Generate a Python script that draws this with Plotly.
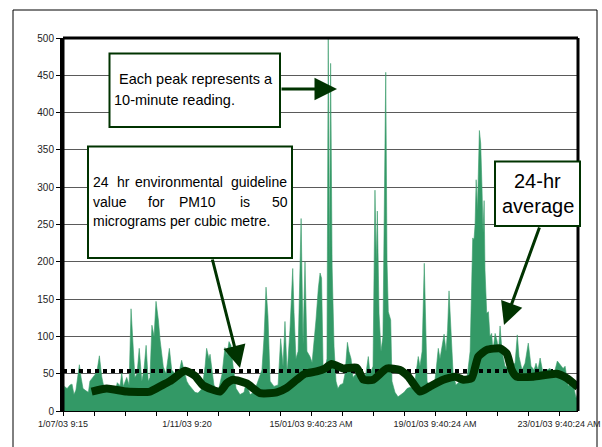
import plotly.graph_objects as go

# ---------------- data ----------------
# index of the 10-minute reading (144 readings per day)
reading_index = [0, 7, 19, 33, 42, 51, 60, 76, 84, 93, 107, 118, 125, 139, 157, 169, 180, 190,
                 209, 228, 246, 252, 265, 273, 280, 296, 307, 316, 324, 334, 344, 354, 366, 376,
                 386, 396, 404, 413, 423, 432, 443, 451, 466, 478, 494, 505, 520, 534, 551, 562,
                 575, 585, 598, 613, 627, 646, 660, 667, 678, 683, 692, 701, 720, 739, 752, 762,
                 771, 780, 790, 804, 822, 841, 850, 869, 887, 906, 924, 934, 943, 952, 962, 980,
                 999, 1011, 1022, 1031, 1041, 1054, 1067, 1073, 1082, 1092, 1106, 1115, 1124, 1133,
                 1147, 1157, 1166, 1175, 1186, 1194, 1201, 1208, 1217, 1226, 1232, 1238, 1243, 1250,
                 1259, 1268, 1277, 1287, 1301, 1310, 1321, 1328, 1338, 1347, 1361, 1380, 1394, 1407,
                 1418, 1426, 1440, 1449, 1455, 1460, 1468, 1477, 1486, 1491, 1499, 1505, 1511, 1522,
                 1528, 1542, 1556, 1570, 1584, 1598, 1612, 1630, 1650, 1658, 1668, 1678, 1684, 1691,
                 1705, 1723, 1733, 1743, 1751, 1760, 1770, 1779, 1786, 1793, 1802, 1812, 1825, 1844,
                 1863, 1877, 1891, 1898, 1903, 1909, 1914, 1919, 1925, 1934, 1940, 1946, 1951, 1956,
                 1960, 1968, 1976, 1983, 1991, 1997, 2007, 2016, 2023, 2030, 2039, 2053, 2072, 2090,
                 2100, 2110, 2118, 2132, 2146, 2161, 2174, 2188, 2197, 2206, 2216, 2230, 2248, 2262,
                 2281, 2296, 2309, 2323, 2332, 2346, 2364, 2374, 2383, 2392]
pm10_values = [18, 33, 30, 35, 36, 22, 28, 62, 45, 30, 27, 25, 40, 46, 52, 74, 46, 32,
               30, 33, 30, 38, 34, 51, 33, 45, 35, 137, 95, 45, 50, 84, 40, 55,
               88, 40, 45, 115, 100, 147, 122, 95, 59, 50, 84, 55, 50, 45, 68, 55,
               40, 35, 30, 25, 24, 30, 60, 84, 70, 76, 55, 35, 25, 50, 85, 75,
               93, 88, 60, 30, 22, 25, 38, 22, 25, 40, 55, 100, 166, 127, 40, 33,
               35, 97, 60, 120, 50, 108, 191, 132, 70, 80, 258, 90, 200, 80,
               73, 65, 90, 122, 165, 185, 178, 60, 55, 70, 505, 200, 466, 193,
               86, 40, 30, 35, 37, 50, 92, 80, 70, 45, 50, 48, 45, 50,
               73, 50, 60, 296, 200, 268, 130, 80, 100, 284, 454, 200, 133, 122,
               40, 25, 19, 22, 25, 30, 32, 30, 73, 60, 80, 198, 118, 40,
               28, 30, 55, 84, 70, 88, 103, 80, 108, 161, 108, 50, 35, 40,
               38, 45, 80, 153, 232, 230, 250, 310, 270, 376, 359, 300, 240, 282,
               189, 131, 133, 100, 104, 80, 104, 94, 80, 114, 80, 60, 55, 60,
               65, 102, 73, 55, 64, 91, 60, 55, 64, 55, 71, 50, 55, 57,
               50, 67, 62, 57, 60, 34, 37, 30, 17, 25]

avg_index = [133, 203, 296, 404, 451, 497, 567, 613, 652, 729, 760, 790, 853, 915, 993, 1039,
             1086, 1124, 1178, 1217, 1248, 1302, 1364, 1395, 1441, 1504, 1565, 1604, 1658, 1705,
             1766, 1821, 1859, 1898, 1929, 1968, 2030, 2061, 2084, 2107, 2185, 2293, 2340, 2392]
avg_values = [26, 30, 26, 26, 33, 40, 54, 47, 34, 26, 37, 42, 37, 24, 25, 31,
              42, 50, 53, 57, 63, 57, 58, 42, 42, 57, 55, 46, 26, 33,
              42, 46, 42, 44, 73, 82, 84, 77, 55, 46, 46, 50, 44, 32]

guideline_value = 53.5
guideline_index = [0, 2276]

tick_index = [0, 144, 288, 432, 576, 720, 864, 1008, 1152, 1296, 1440, 1584, 1728, 1872,
              2016, 2160, 2304]
tick_labels = ["1/07/03 9:15", "", "", "", "1/11/03 9:20", "", "", "",
               "15/01/03 9:40:23 AM", "", "", "", "19/01/03 9:40:24 AM", "", "", "",
               "23/01/03 9:40:24 AM"]
x_end = 2392

FONT = "Liberation Sans, Arial, sans-serif"
DARK = "#003300"

# ---------------- geometry helpers (pixel -> paper) ----------------
L, R, T, B = 63, 578, 38, 411
def px(x):
    return (x - L) / (R - L)
def py(y):
    return (B - y) / (B - T)

fig = go.Figure()

fig.add_trace(go.Scatter(
    x=reading_index, y=pm10_values, mode="lines",
    line=dict(color="#3a9c6c", width=0.6),
    fill="tozeroy", fillcolor="#339966",
    hoverinfo="skip", showlegend=False))

fig.add_trace(go.Scatter(
    x=guideline_index, y=[guideline_value] * len(guideline_index), mode="lines",
    line=dict(color="black", width=4, dash="dot"),
    hoverinfo="skip", showlegend=False))

fig.add_trace(go.Scatter(
    x=avg_index, y=avg_values, mode="lines",
    line=dict(color=DARK, width=8, shape="spline", smoothing=0.5),
    hoverinfo="skip", showlegend=False))

shapes = []
# outer chart border
shapes.append(dict(type="rect", xref="paper", yref="paper",
                   x0=px(13), x1=px(597), y0=py(470), y1=py(10),
                   line=dict(color="black", width=1), layer="below"))
# thick plot border: top / left / right
for (x0, y0, x1, y1) in [(0, 1, 1, 1), (0, 0, 0, 1), (1, 0, 1, 1)]:
    shapes.append(dict(type="line", xref="paper", yref="paper",
                       x0=x0, y0=y0, x1=x1, y1=y1,
                       line=dict(color="black", width=3), layer="above"))
# annotation boxes
for (x0, y0, x1, y1) in [(109.5, 53.5, 280, 127), (88, 146.5, 292, 258), (495, 161.5, 580, 226)]:
    shapes.append(dict(type="rect", xref="paper", yref="paper",
                       x0=px(x0), x1=px(x1), y0=py(y1), y1=py(y0),
                       fillcolor="white", line=dict(color=DARK, width=2), layer="above"))

ann = []
def text(t, x, y, size=14.5, anchor="left"):
    ann.append(dict(text=t, xref="paper", yref="paper", x=px(x), y=py(y),
                    xanchor=anchor, yanchor="middle", showarrow=False,
                    font=dict(family=FONT, size=size, color="black")))

text("Each peak represents a", 117, 79.5)
text("10-minute reading.", 112, 100)

for w, x in [("24", 91), ("hr", 114.5), ("environmental", 133), ("guideline", 229)]:
    text(w, x, 182.3, size=14)
for w, x in [("value", 91), ("for", 145.5), ("PM10", 177), ("is", 238), ("50", 269.5)]:
    text(w, x, 202, size=14)
text("micrograms per cubic metre.", 91, 221, size=14)

text("24-hr", 537.5, 181, size=20, anchor="center")
text("average", 537.5, 206, size=20, anchor="center")

def arrow(tail, tip):
    ann.append(dict(text="", xref="paper", yref="paper", x=px(tip[0]), y=py(tip[1]),
                    ax=tail[0] - tip[0], ay=tail[1] - tip[1], axref="pixel", ayref="pixel",
                    showarrow=True, arrowhead=2, arrowwidth=3, arrowsize=1.5,
                    arrowcolor=DARK, standoff=0, startstandoff=0))

arrow((280, 89), (337, 89))
arrow((212, 258), (240, 368))
arrow((540, 226), (504, 325))

fig.update_layout(
    width=602, height=447, autosize=False,
    margin=dict(l=L, r=602 - R, t=T, b=447 - B, pad=0, autoexpand=False),
    paper_bgcolor="white", plot_bgcolor="white",
    font=dict(family=FONT, color="black"),
    shapes=shapes, annotations=ann, showlegend=False,
    xaxis=dict(range=[0, x_end], tickmode="array", tickvals=tick_index, ticktext=tick_labels,
               ticks="outside", ticklen=4, tickwidth=1, tickcolor="black", automargin=False,
               showgrid=False, zeroline=False, showline=True, linecolor="black", linewidth=1,
               tickfont=dict(size=9, color="#222222"), tickangle=0),
    yaxis=dict(range=[0, 500], tickmode="linear", tick0=0, dtick=50, automargin=False,
               ticks="outside", ticklen=4, tickwidth=1, tickcolor="black",
               showgrid=True, gridcolor="#5a5a5a", gridwidth=1,
               zeroline=False, showline=True, linecolor="black", linewidth=3,
               tickfont=dict(size=10, color="#222222")),
)

fig.write_html(
    "out.html",
    config={"displayModeBar": False, "responsive": False},
    post_script="document.body.style.margin='0';document.body.style.padding='0';"
                "document.documentElement.style.overflow='hidden';",
)
